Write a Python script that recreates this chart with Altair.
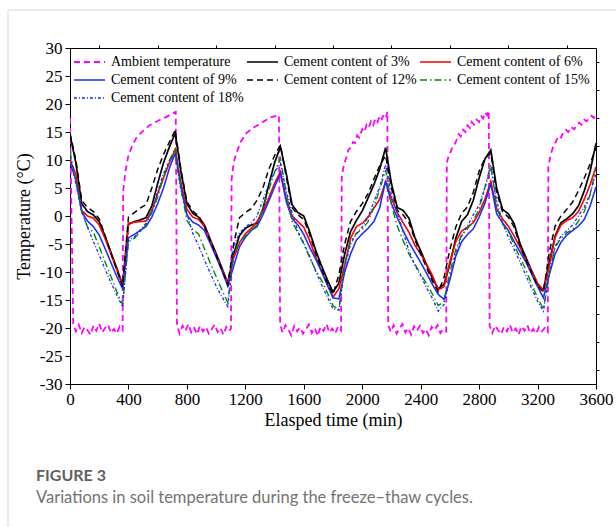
import altair as alt
import pandas as pd

# ---------------- data ----------------
time_min = list(range(0, 3601, 40))

s3 = [14.5, 9.5, 2.2, 0.8, 0.2, -1.0, -3.6, -6.5, -9.3, -12.3,
      -1.5, -1.0, -0.7, -0.3, 1.8, 5.8, 9.5, 12.3, 14.8,
      7.8, 2.2, 0.5, -0.2, -1.6, -4.2, -6.7, -9.3, -12.0,
      -6.8, -3.5, -2.2, -1.6, -1.3, 1.2, 5.5, 9.5, 12.4,
      7.6, 2.0, 0.6, 0.0, -2.8, -6.0, -8.8, -11.3, -13.6,
      -12.0, -6.8, -2.8, -0.8, 0.9, 3.2, 5.6, 8.4, 12.2,
      5.8, 1.5, 1.0, -0.4, -3.8, -6.2, -8.7, -11.1, -13.0,
      -12.2, -8.6, -4.0, -1.0, 0.2, 2.8, 6.8, 10.2, 11.8,
      5.0, 1.2, 0.4, -1.4, -4.9, -7.4, -9.8, -12.2, -13.2,
      -8.3, -3.6, -1.2, -0.5, 0.4, 1.8, 4.5, 8.0, 13.0]

s12 = [14.8, 10.0, 2.8, 1.5, 0.8, -0.5, -3.5, -6.6, -9.6, -12.6,
       -0.2, 0.6, 1.4, 2.0, 5.0, 8.3, 11.0, 13.2, 15.3,
       8.2, 2.6, 0.9, 0.0, -1.8, -4.4, -7.0, -9.6, -12.3,
       -5.0, -0.3, 0.6, 1.3, 2.8, 5.0, 8.3, 10.8, 12.7,
       7.0, 1.5, 0.2, -0.6, -3.3, -6.5, -9.3, -11.8, -14.0,
       -10.5, -5.0, -1.0, 0.8, 2.2, 4.0, 6.6, 9.0, 10.8,
       5.0, 1.0, 0.2, -1.2, -4.2, -6.8, -9.2, -11.6, -13.5,
       -11.0, -6.0, -2.0, 0.5, 1.6, 4.2, 8.0, 10.3, 11.2,
       4.2, 0.8, -0.2, -2.0, -5.3, -7.8, -10.2, -12.5, -13.6,
       -6.5, -1.8, 0.0, 1.2, 2.5, 4.5, 6.8, 9.3, 12.2]

s6 = [10.0, 7.5, 1.0, 0.0, -0.4, -1.6, -4.0, -6.8, -9.6, -12.4,
      -1.3, -1.1, -1.0, -0.9, 0.9, 4.0, 6.8, 9.5, 11.9,
      5.8, 1.2, -0.2, -0.6, -1.9, -4.4, -7.0, -9.5, -12.1,
      -7.5, -4.8, -3.2, -2.2, -1.0, 0.8, 3.2, 5.8, 7.9,
      3.2, 0.0, -1.0, -2.0, -4.4, -7.2, -9.8, -12.2, -14.5,
      -13.0, -8.8, -4.0, -1.9, -1.3, -0.2, 1.4, 3.0, 6.1,
      3.2, 0.6, -1.2, -2.9, -5.2, -6.8, -8.6, -10.6, -13.2,
      -12.6, -8.2, -4.6, -2.7, -2.0, -1.2, 0.6, 3.0, 6.2,
      1.3, -0.5, -1.8, -3.6, -5.6, -7.8, -9.8, -12.0, -13.3,
      -9.0, -3.8, -1.6, -0.8, -0.3, 0.8, 3.0, 5.6, 8.8]

s9 = [9.5, 6.5, 0.8, -0.9, -1.9, -3.4, -5.8, -8.3, -10.8, -13.0,
      -3.9, -3.3, -2.6, -1.9, -0.2, 2.2, 5.0, 8.5, 11.2,
      5.2, 0.2, -1.1, -1.6, -2.6, -4.9, -7.3, -9.8, -12.5,
      -9.0, -5.5, -3.8, -2.6, -1.9, 0.2, 2.6, 5.2, 7.6,
      2.6, -0.5, -1.6, -3.3, -5.6, -7.6, -9.8, -12.2, -14.6,
      -14.8, -10.0, -6.8, -4.3, -3.2, -2.2, -1.0, 1.5, 6.3,
      2.2, -0.3, -2.6, -4.7, -6.5, -8.3, -10.2, -12.2, -14.0,
      -14.9, -11.4, -7.2, -4.6, -3.3, -2.3, -0.2, 2.3, 5.8,
      0.4, -1.2, -2.6, -4.6, -6.4, -8.2, -10.4, -12.6, -14.6,
      -10.5, -6.8, -4.7, -3.4, -2.6, -1.8, -0.6, 1.8, 5.2]

s15 = [11.5, 6.2, 0.8, -2.0, -2.9, -5.5, -8.2, -10.8, -13.5, -15.8,
       -4.6, -4.0, -2.8, -1.6, 0.6, 3.4, 7.0, 9.9, 12.1,
       5.0, -0.8, -2.4, -3.2, -5.8, -8.4, -10.8, -13.2, -15.5,
       -7.0, -4.5, -3.6, -2.6, -1.5, 1.4, 4.6, 7.8, 10.3,
       4.0, -1.0, -3.0, -5.0, -7.4, -9.6, -11.4, -13.6, -16.0,
       -16.8, -8.5, -4.6, -3.1, -2.4, -1.0, 1.6, 4.8, 8.2,
       2.0, -1.8, -4.4, -6.8, -8.6, -10.4, -12.1, -13.9, -16.0,
       -15.3, -10.0, -6.0, -3.4, -2.3, -0.8, 1.2, 5.2, 9.2,
       1.8, -1.4, -2.8, -5.2, -7.4, -9.6, -12.2, -14.6, -16.6,
       -10.2, -5.6, -4.0, -3.0, -2.4, -0.9, 0.8, 3.8, 8.6]

s18 = [10.5, 5.8, 0.8, -2.0, -4.6, -7.0, -9.5, -11.9, -14.1, -16.2,
       -4.3, -3.8, -2.5, -1.3, 1.0, 4.3, 7.6, 9.8, 11.2,
       4.4, 0.5, -3.1, -5.3, -7.8, -10.2, -12.5, -14.4, -16.2,
       -5.5, -3.0, -2.0, -1.2, 0.0, 2.8, 5.6, 7.8, 9.4,
       4.5, 0.6, -2.8, -4.8, -7.2, -9.8, -12.2, -14.4, -16.6,
       -16.8, -9.2, -5.0, -3.2, -2.0, -0.2, 2.6, 5.2, 9.2,
       3.8, 0.5, -2.8, -6.2, -8.8, -10.6, -12.8, -14.7, -17.0,
       -15.8, -11.0, -6.8, -3.6, -1.8, 0.2, 2.0, 5.0, 8.6,
       2.8, -1.2, -3.8, -6.0, -8.2, -10.6, -13.0, -15.2, -17.0,
       -10.5, -5.4, -3.6, -2.6, -1.6, 0.0, 1.6, 4.0, 7.6]

amb_t = [0, 22, 40, 60, 80, 100, 120, 140, 160, 180, 200, 220, 240, 260, 280, 300, 320, 340, 360,
         364, 380, 398, 425, 455, 500, 545, 610, 660, 700, 724,
         732, 750, 770, 790, 810, 830, 850, 870, 890, 910, 930, 950, 970, 990, 1010, 1030, 1050, 1070, 1090, 1102,
         1106, 1120, 1138, 1170, 1207, 1250, 1298, 1340, 1367, 1400, 1430,
         1438, 1455, 1475, 1495, 1515, 1535, 1555, 1575, 1595, 1615, 1635, 1655, 1675, 1695, 1715, 1735, 1755,
         1775, 1795, 1815, 1835, 1855,
         1860, 1875, 1892, 1905, 1920, 1937, 1950, 1965, 1980, 2000, 2015, 2030, 2045, 2060, 2075, 2090, 2105,
         2120, 2135, 2150, 2165, 2172,
         2178, 2195, 2215, 2235, 2255, 2275, 2295, 2315, 2335, 2355, 2375, 2395, 2415, 2435, 2455, 2475, 2495,
         2515, 2535, 2555, 2575,
         2579, 2592, 2605, 2620, 2635, 2646, 2660, 2675, 2691, 2705, 2720, 2737, 2750, 2765, 2783, 2800, 2815,
         2828, 2842, 2855, 2866,
         2872, 2890, 2910, 2930, 2950, 2970, 2990, 3010, 3030, 3050, 3070, 3090, 3110, 3130, 3150, 3170, 3190,
         3210, 3230, 3250, 3270,
         3274, 3290, 3305, 3320, 3331, 3345, 3360, 3376, 3395, 3410, 3430, 3450, 3468, 3485, 3500, 3520, 3536,
         3555, 3570, 3585, 3600]

amb_v = [17.5, -19.2, -20.6, -19.4, -20.9, -19.8, -20.4, -21.2, -19.6, -20.5, -19.2, -20.8, -20.0, -19.4,
         -20.9, -20.2, -21.0, -19.7, -20.4,
         4.5, 8.0, 10.6, 12.5, 14.0, 15.2, 16.2, 17.1, 17.7, 18.3, 18.6,
         -19.5, -21.0, -19.6, -20.5, -19.3, -20.8, -20.0, -21.1, -19.6, -20.6, -19.8, -21.0, -20.2, -19.4,
         -20.7, -20.0, -21.2, -19.8, -20.5, -20.1,
         6.5, 9.5, 11.2, 13.3, 14.8, 15.7, 16.4, 17.1, 17.6, 17.8, 18.0,
         -19.3, -20.8, -19.5, -20.3, -21.3, -19.6, -20.6, -19.9, -21.0, -20.2, -19.4, -20.9, -20.0, -21.4,
         -19.8, -20.5, -19.3, -20.8, -20.1, -21.0, -19.7, -20.4,
         7.0, 9.2, 10.5, 11.8, 12.2, 13.2, 13.0, 14.4, 14.0, 15.5, 15.0, 16.3, 15.8, 16.9, 16.2, 17.4, 16.8,
         17.9, 17.3, 18.3, 17.8, 18.6,
         -19.4, -20.7, -19.5, -21.0, -20.1, -19.3, -20.8, -20.0, -21.2, -19.7, -20.5, -19.6, -20.9, -20.2,
         -21.3, -19.8, -20.4, -19.5, -20.9, -20.2, -20.6,
         9.5, 10.8, 11.4, 12.6, 12.9, 13.6, 14.6, 14.2, 15.4, 15.0, 16.2, 15.7, 16.8, 16.3, 17.2, 16.8, 17.8,
         17.4, 18.5, 18.0, 18.8,
         -19.6, -20.9, -19.6, -20.4, -21.1, -19.8, -20.6, -19.4, -20.8, -20.1, -21.2, -19.7, -20.5, -19.5,
         -20.9, -20.2, -21.0, -19.8, -20.6, -20.0, -20.7,
         8.8, 11.0, 12.2, 13.0, 13.6, 14.3, 14.0, 14.9, 15.4, 15.0, 15.9, 15.5, 16.2, 16.7, 16.3, 17.2, 16.9,
         17.6, 17.9, 17.5, 18.4]

series_names = ["Ambient temperature", "Cement content of 3%", "Cement content of 6%",
                "Cement content of 9%", "Cement content of 12%", "Cement content of 15%",
                "Cement content of 18%"]
series_colors = ["#ff00ff", "#000000", "#ff0000", "#1a2cff", "#000000", "#008c00", "#1a2cff"]
series_dashes = [[6, 4], [1, 0], [1, 0], [1, 0], [6, 4], [7, 3, 1.5, 3], [3, 2, 1, 2]]
series_widths = [1.8, 1.3, 1.3, 1.3, 1.3, 1.3, 1.2]

x_ticks = [0, 400, 800, 1200, 1600, 2000, 2400, 2800, 3200, 3600]
x_minor = [200, 600, 1000, 1400, 1800, 2200, 2600, 3000, 3400]
y_ticks = [-30, -25, -20, -15, -10, -5, 0, 5, 10, 15, 20, 25, 30]
y_minor = [-27.5, -22.5, -17.5, -12.5, -7.5, -2.5, 2.5, 7.5, 12.5, 17.5, 22.5, 27.5]

rows = []
for t, v in zip(amb_t, amb_v):
    rows.append({"t": t, "T": v, "s": series_names[0]})
for name, vals in zip(series_names[1:], [s3, s6, s9, s12, s15, s18]):
    for t, v in zip(time_min, vals):
        rows.append({"t": t, "T": v, "s": name})
df = pd.DataFrame(rows)
df["o"] = range(len(df))

W, H = 526, 336
SERIF = "Liberation Serif"

legend = alt.Legend(title=None, orient="none", legendX=3, legendY=5, columns=3, direction="horizontal",
                    symbolType="stroke", symbolSize=961, symbolStrokeWidth=1.5,
                    labelFont=SERIF, labelFontSize=14, labelColor="black", labelOffset=5,
                    columnPadding=2, rowPadding=0, clipHeight=18, padding=0, labelLimit=400)

xs = alt.Scale(domain=[0, 3600], nice=False, zero=False)
ys = alt.Scale(domain=[-30, 30], nice=False, zero=False)

lines = alt.Chart(df).mark_line(clip=True).encode(
    x=alt.X("t:Q", scale=xs, axis=alt.Axis(values=x_ticks, title="Elasped time (min)", grid=False,
                                           labelFont=SERIF, labelFontSize=17, labelColor="black",
                                           titleFont=SERIF, titleFontSize=18, titleFontWeight="normal",
                                           titleColor="black", tickSize=5, tickColor="black",
                                           domainColor="black", labelPadding=2, titlePadding=4,
                                           labelFlush=False, labelExpr="'' + datum.value")),
    y=alt.Y("T:Q", scale=ys, axis=alt.Axis(values=y_ticks, title="Temperature (°C)", grid=False,
                                           labelFont=SERIF, labelFontSize=17, labelColor="black",
                                           titleFont=SERIF, titleFontSize=18, titleFontWeight="normal",
                                           titleColor="black", tickSize=5, tickColor="black",
                                           domainColor="black", labelPadding=3, titlePadding=6,
                                           labelFlush=False, labelExpr="'' + datum.value")),
    color=alt.Color("s:N", sort=series_names,
                    scale=alt.Scale(domain=series_names, range=series_colors), legend=legend),
    strokeDash=alt.StrokeDash("s:N", sort=series_names,
                              scale=alt.Scale(domain=series_names, range=series_dashes), legend=legend),
    strokeWidth=alt.StrokeWidth("s:N", scale=alt.Scale(domain=series_names, range=series_widths), legend=None),
    order="o:Q",
)

minor = alt.Chart(df).mark_point(opacity=0).encode(
    x=alt.X("t:Q", scale=xs, axis=alt.Axis(values=x_minor, labels=False, title=None, grid=False,
                                           domain=False, tickSize=3, tickColor="black")),
    y=alt.Y("T:Q", scale=ys, axis=alt.Axis(values=y_minor, labels=False, title=None, grid=False,
                                           domain=False, tickSize=3, tickColor="black")),
)

one = pd.DataFrame({"k": [0]})
border_v = alt.Chart(one).mark_rule(color="#d9d9d9", strokeWidth=1).encode(
    x=alt.value(-62), y=alt.value(-38), y2=alt.value(H + 143))
border_h = alt.Chart(one).mark_rule(color="#d9d9d9", strokeWidth=1).encode(
    x=alt.value(-62), x2=alt.value(W + 21), y=alt.value(-38))
cap1 = alt.Chart(one).mark_text(text="FIGURE 3", align="left", baseline="alphabetic", font="Lato",
                                fontSize=16, fontWeight="bold", color="#5f5f5f").encode(
    x=alt.value(-34), y=alt.value(433))
cap2 = alt.Chart(one).mark_text(text="Variations in soil temperature during the freeze\u2013thaw cycles.",
                                align="left", baseline="alphabetic", font="Lato", fontSize=16.5,
                                color="#737373").encode(
    x=alt.value(-34), y=alt.value(455))

chart = alt.layer(border_v, border_h, lines, minor, cap1, cap2).resolve_axis(
    x="independent", y="independent"
).properties(
    width=W, height=H,
    autosize=alt.AutoSizeParams(type="none"),
    padding={"left": 70, "top": 48, "right": 20, "bottom": 143},
    background="white",
).configure_view(stroke="black", strokeWidth=1)

chart.save("out.html", embed_options={"renderer": "svg", "actions": False})
